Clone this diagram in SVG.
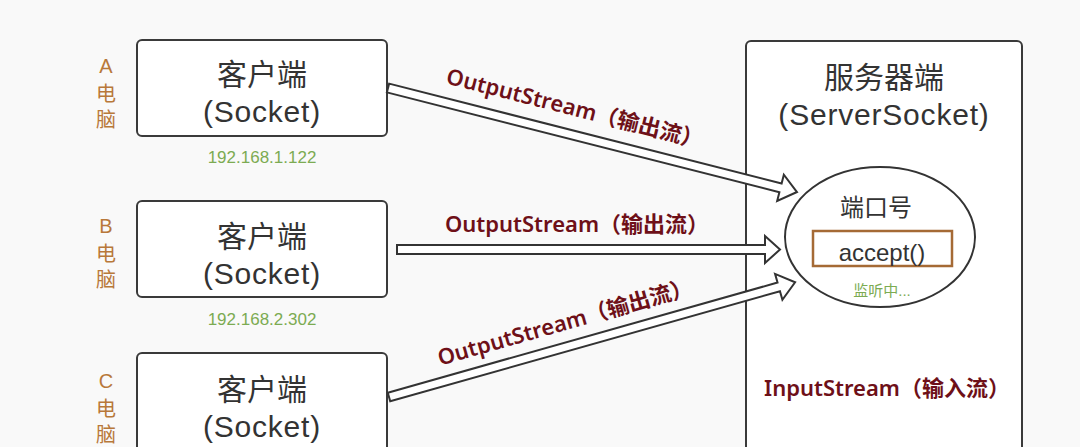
<svg xmlns="http://www.w3.org/2000/svg" width="1080" height="447" viewBox="0 0 1080 447">
<style>
text{font-family:"Liberation Sans","Noto Sans CJK SC",sans-serif}
.box{fill:#ffffff;stroke:#3a3a3a;stroke-width:2}
.main{font-size:30px;fill:#333333;text-anchor:middle}
.lat{letter-spacing:0.8px}
.side{font-size:20px;fill:#b8783a;text-anchor:middle}
.ip{font-size:17px;fill:#7cab52;text-anchor:middle}
.flow{font-family:"Noto Sans","Noto Sans CJK SC",sans-serif;font-size:22px;fill:#6e1018;text-anchor:middle;font-weight:600}
.arrow{fill:#ffffff;stroke:#333333;stroke-width:2;stroke-linejoin:miter}
</style>
<rect x="0" y="0" width="1080" height="447" fill="#f9f9f9"/>

<g id="server">
<rect class="box" x="746" y="41" width="276" height="420" rx="5"/>
<text class="main" x="884" y="88">服务器端</text>
<text class="main lat" x="884" y="125">(ServerSocket)</text>
<text class="flow" x="887" y="396">InputStream（输入流）</text>
</g>

<g id="clientA">
<rect class="box" x="137" y="40" width="250" height="96" rx="5"/>
<text class="main" x="262" y="85">客户端</text>
<text class="main lat" x="262" y="122">(Socket)</text>
<text class="side" x="106" y="73">A</text>
<text class="side" x="106" y="101">电</text>
<text class="side" x="106" y="127">脑</text>
<text class="ip" x="262" y="163">192.168.1.122</text>
</g>

<g id="clientB">
<rect class="box" x="137" y="201" width="250" height="96" rx="5"/>
<text class="main" x="262" y="247">客户端</text>
<text class="main lat" x="262" y="284">(Socket)</text>
<text class="side" x="106" y="233">B</text>
<text class="side" x="106" y="261">电</text>
<text class="side" x="106" y="287">脑</text>
<text class="ip" x="262" y="325">192.168.2.302</text>
</g>

<g id="clientC">
<rect class="box" x="137" y="353" width="250" height="110" rx="5"/>
<text class="main" x="262" y="400">客户端</text>
<text class="main lat" x="262" y="437">(Socket)</text>
<text class="side" x="106" y="388">C</text>
<text class="side" x="106" y="416">电</text>
<text class="side" x="106" y="442">脑</text>
</g>

<g id="connectors">
<path class="arrow" transform="translate(388,88) rotate(14.27)" d="M0,-4.5 L405,-4.5 L405,-13.5 L422,0 L405,13.5 L405,4.5 L0,4.5 Z"/>
<path class="arrow" transform="translate(397,249.5)" d="M0,-4.5 L368,-4.5 L368,-13.5 L383,0 L368,13.5 L368,4.5 L0,4.5 Z"/>
<path class="arrow" transform="translate(389,397) rotate(-15.78)" d="M0,-4.5 L405,-4.5 L405,-13.5 L422,0 L405,13.5 L405,4.5 L0,4.5 Z"/>
<text class="flow" transform="translate(575,108) rotate(14.3)" y="8">OutputStream（输出流）</text>
<text class="flow" x="577" y="232">OutputStream（输出流）</text>
<text class="flow" transform="translate(565,322) rotate(-15.8)" y="8">OutputStream（输出流）</text>
</g>

<g id="port">
<ellipse cx="880" cy="237" rx="95" ry="70" fill="#ffffff" stroke="#333333" stroke-width="2"/>
<text x="876" y="216" style="font-size:24px;fill:#333333;text-anchor:middle">端口号</text>
<rect x="813" y="231" width="139" height="35" fill="none" stroke="#a56a35" stroke-width="2.5"/>
<text x="882" y="261" style="font-size:24px;fill:#333333;text-anchor:middle">accept()</text>
<text x="882" y="296" style="font-size:15px;fill:#7cab52;text-anchor:middle">监听中...</text>
</g>
</svg>
